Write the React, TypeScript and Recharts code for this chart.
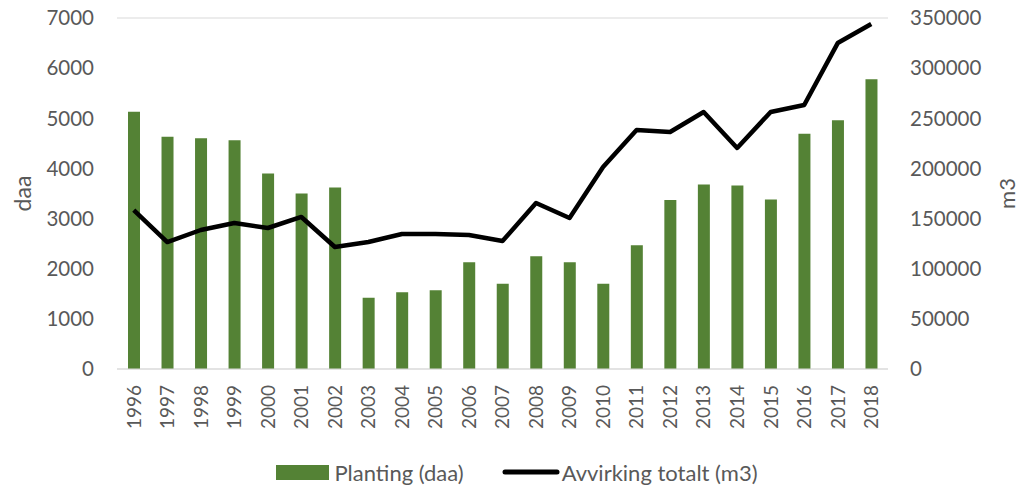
import React from "react";
import { ComposedChart, Bar, Line, XAxis, YAxis, CartesianGrid, Legend, Label } from "recharts";

const years = ["1996","1997","1998","1999","2000","2001","2002","2003","2004","2005","2006","2007","2008","2009","2010","2011","2012","2013","2014","2015","2016","2017","2018"];
const planting = [5130,4630,4600,4560,3900,3500,3620,1420,1530,1570,2130,1700,2250,2130,1700,2470,3370,3680,3660,3380,4690,4960,5780];
const avvirking = [158500,126600,138600,145600,140600,151600,121700,126600,134600,134600,133600,127600,165500,150600,201400,238300,236300,256300,220400,256300,263200,325000,344000];
const leftTicks = [0,1000,2000,3000,4000,5000,6000,7000];
const rightTicks = [0,50000,100000,150000,200000,250000,300000,350000];

const data = years.map((y, i) => ({ year: y, planting: planting[i], avvirking: avvirking[i] }));

const FONT = "Lato, 'Open Sans', sans-serif";
const TXT = "#595959";
const GREEN = "#548235";

const XTick = (props: any) => {
  const { x, y, payload } = props;
  return (
    <text x={x} y={y} transform={`rotate(-90, ${x}, ${y})`} textAnchor="end" dy="0.36em" fill={TXT} fontSize={19} fontFamily={FONT}>
      {payload.value}
    </text>
  );
};

const LegendContent = () => (
  <div style={{ display: "flex", justifyContent: "center", alignItems: "center", paddingLeft: 14, fontFamily: FONT, fontSize: 22, color: TXT, height: 28 }}>
    <svg width={53} height={15} style={{ marginRight: 5 }}>
      <rect x={0} y={0} width={53} height={15} fill={GREEN} />
    </svg>
    <span style={{ marginRight: 38 }}>Planting (daa)</span>
    <svg width={58} height={8} style={{ marginRight: 2 }}>
      <line x1={3} y1={4} x2={55} y2={4} stroke="#000" strokeWidth={5} strokeLinecap="round" />
    </svg>
    <span>Avvirking totalt (m3)</span>
  </div>
);

export default function App() {
  return (
    <div style={{ position: "absolute", left: 0, top: 0, width: 1020, height: 486, background: "#fff" }}>
      <ComposedChart width={1020} height={486} data={data} margin={{ top: 18, right: 0, bottom: 0, left: 0 }}>
        <CartesianGrid vertical={false} stroke="#d9d9d9" strokeWidth={1.2} />
        <XAxis dataKey="year" height={117} tickSize={0} tickMargin={16} tick={<XTick />} axisLine={{ stroke: "#d9d9d9", strokeWidth: 1.2 }} tickLine={false} interval={0} />
        <YAxis yAxisId="left" orientation="left" width={117} domain={[0, 7000]} ticks={leftTicks} tickSize={0} tickMargin={23} axisLine={false} tickLine={false} tick={{ fill: TXT, fontSize: 20.5, fontFamily: FONT }}>
          <Label content={(p: any) => {
            const vb = p.viewBox;
            const cx = vb.x + 23;
            const cy = vb.y + vb.height / 2;
            return <text x={cx} y={cy} transform={`rotate(-90, ${cx}, ${cy})`} textAnchor="middle" dy="0.36em" fill={TXT} fontSize={23} fontFamily={FONT}>daa</text>;
          }} />
        </YAxis>
        <YAxis yAxisId="right" orientation="right" width={132} domain={[0, 350000]} ticks={rightTicks} tickSize={0} tickMargin={22} axisLine={false} tickLine={false} tick={{ fill: TXT, fontSize: 20.5, fontFamily: FONT }}>
          <Label content={(p: any) => {
            const vb = p.viewBox;
            const cx = vb.x + vb.width - 13;
            const cy = vb.y + vb.height / 2;
            return <text x={cx} y={cy} transform={`rotate(-90, ${cx}, ${cy})`} textAnchor="middle" dy="0.36em" fill={TXT} fontSize={22} fontFamily={FONT}>m3</text>;
          }} />
        </YAxis>
        <Bar yAxisId="left" dataKey="planting" name="Planting (daa)" fill={GREEN} barSize={12} isAnimationActive={false} />
        <Line yAxisId="right" dataKey="avvirking" name="Avvirking totalt (m3)" stroke="#000" strokeWidth={4.5} dot={false} strokeLinejoin="round" isAnimationActive={false} />
        <Legend layout="horizontal" verticalAlign="middle" align="center" wrapperStyle={{ top: 458, left: 0, width: 1020 }} content={<LegendContent />} />
      </ComposedChart>
    </div>
  );
}
